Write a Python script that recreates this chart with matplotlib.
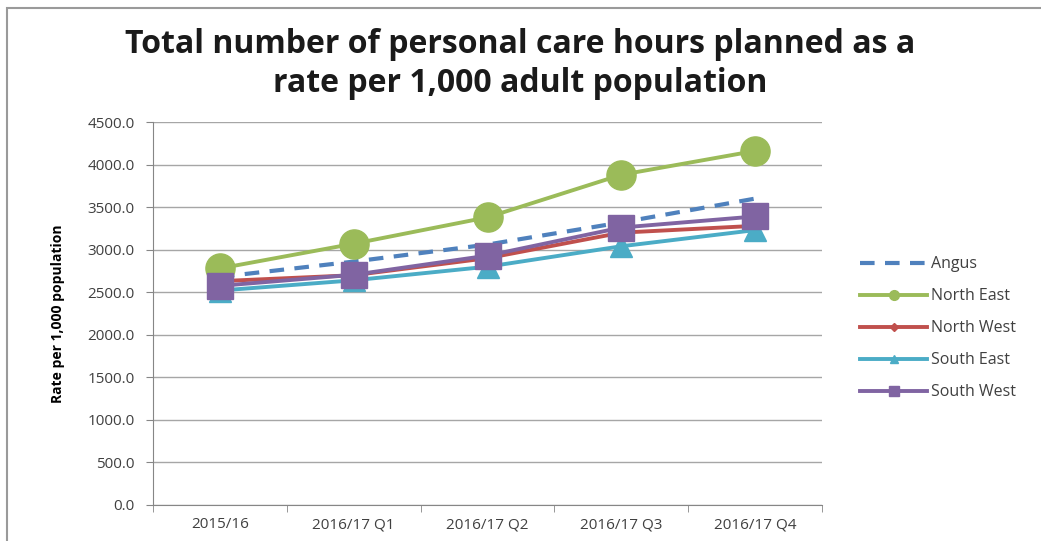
import matplotlib
matplotlib.use("Agg")
import matplotlib.pyplot as plt
from matplotlib.lines import Line2D
from matplotlib.patches import Rectangle

plt.rcParams['font.family'] = ['Open Sans', 'DejaVu Sans']

periods = ['2015/16', '2016/17 Q1', '2016/17 Q2', '2016/17 Q3', '2016/17 Q4']
angus = [2680, 2860, 3060, 3320, 3600]
north_east = [2780, 3070, 3380, 3880, 4160]
north_west = [2630, 2700, 2900, 3200, 3280]
south_east = [2520, 2640, 2800, 3040, 3230]
south_west = [2575, 2705, 2930, 3260, 3390]
y_ticks = [0, 500, 1000, 1500, 2000, 2500, 3000, 3500, 4000, 4500]

fig = plt.figure(figsize=(10.41, 5.41), dpi=100)
fig.patch.set_facecolor('white')

# chart frame
fig.add_artist(Rectangle((7 / 1041, -0.1), 1.2, 1 - 8 / 541 + 0.1, transform=fig.transFigure,
                         fill=False, edgecolor='#9a9a9a', linewidth=1.5))

ax = fig.add_axes([153 / 1041, 1 - 505 / 541, (822 - 153) / 1041, (505 - 122) / 541])
x = range(len(periods))

ax.plot(x, angus, color='#4F81BD', lw=3, ls=(0, (3.5, 2.5)), label='Angus')
ax.plot(x, north_east, color='#9BBB59', lw=2.8, marker='o', ms=21, label='North East')
ax.plot(x, north_west, color='#C0504D', lw=2.8, marker='D', ms=5, label='North West')
ax.plot(x, south_east, color='#4BACC6', lw=2.8, marker='^', ms=16, label='South East')
ax.plot(x, south_west, color='#8064A2', lw=2.8, marker='s', ms=19, label='South West')

ax.set_xlim(-0.5, len(periods) - 0.5)
ax.set_ylim(0, 4500)
ax.set_yticks(y_ticks)
ax.set_yticklabels([f'{v:.1f}' for v in y_ticks])
ax.set_xticks(list(x))
ax.set_xticklabels(periods)
ax.set_xticks([i + 0.5 for i in range(-1, len(periods))], minor=True)
ax.tick_params(axis='x', which='major', length=0, pad=9, labelsize=11, labelcolor='#404040')
ax.tick_params(axis='x', which='minor', length=5, color='#868686')
ax.tick_params(axis='y', length=5, color='#868686', labelsize=11, labelcolor='#404040', pad=8)
ax.grid(axis='y', color='#a6a6a6', lw=1)
ax.set_axisbelow(True)
for side in ['top', 'right']:
    ax.spines[side].set_visible(False)
for side in ['left', 'bottom']:
    ax.spines[side].set_color('#868686')

ax.set_ylabel('Rate per 1,000 population', fontsize=10, fontweight='bold',
              family=['Liberation Sans Narrow', 'Open Sans', 'DejaVu Sans'], labelpad=16)

fig.text(0.5, 1 - 64 / 541, 'Total number of personal care hours planned as a\nrate per 1,000 adult population',
         ha='center', va='center', fontsize=23, fontweight='bold', color='#1a1a1a', linespacing=1.22)

handles = [
    Line2D([], [], color='#4F81BD', lw=3, ls=(0, (3.5, 2.5))),
    Line2D([], [], color='#9BBB59', lw=2.8, marker='o', ms=7),
    Line2D([], [], color='#C0504D', lw=2.8, marker='D', ms=4),
    Line2D([], [], color='#4BACC6', lw=2.8, marker='^', ms=6),
    Line2D([], [], color='#8064A2', lw=2.8, marker='s', ms=7),
]
names = ['Angus', 'North East', 'North West', 'South East', 'South West']
fig.legend(handles, names, loc='upper left', bbox_to_anchor=(846 / 1041, 1 - 242 / 541),
           frameon=False, fontsize=11.5, labelcolor='#404040', handlelength=4.2,
           handletextpad=0.25, labelspacing=1.0)

fig.savefig('out.png', dpi=100)
